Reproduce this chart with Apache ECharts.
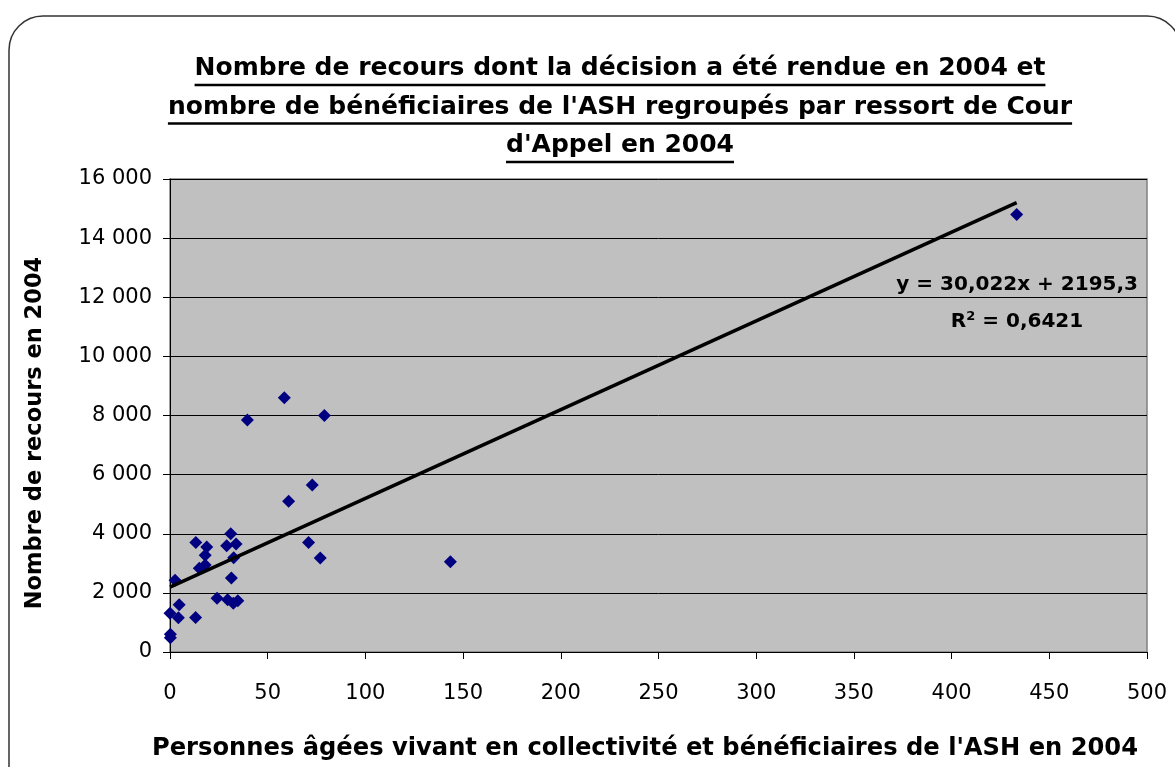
<!DOCTYPE html>
<html>
<head>
<meta charset="utf-8">
<script src="https://cdn.jsdelivr.net/npm/echarts@6/dist/echarts.min.js"></script>
<style>
  html, body { margin: 0; padding: 0; background: #fff; }
  #chart { width: 1175px; height: 767px; }
</style>
</head>
<body>
<div id="chart"></div>
<script>
// bénéficiaires de l'ASH (x) et recours (y), par ressort de Cour d'Appel
var beneficiaires = [58.5, 39.6, 79.0, 72.8, 60.7, 13.2, 18.8, 18.0, 31.1, 29.0,
                     33.8, 32.6, 15.0, 18.0, 2.6, 31.4, 24.1, 29.5, 32.4, 34.7,
                     4.7, 0.0, 4.3, 13.1, 0.2, 0.2, 70.9, 76.9, 143.5, 433.3];
var recours = [8600, 7850, 8000, 5650, 5100, 3700, 3550, 3270, 4000, 3590,
               3650, 3190, 2830, 2940, 2430, 2500, 1820, 1770, 1650, 1730,
               1600, 1310, 1160, 1170, 600, 480, 3700, 3180, 3050, 14800];
// courbe de tendance affichée
var pente = 30.022;
var ordonnee = 2195.3;
var titreLignes = ['Nombre de recours dont la décision a été rendue en 2004 et',
                   "nombre de bénéficiaires de l'ASH regroupés par ressort de Cour",
                   "d'Appel en 2004"];

var chart = echarts.init(document.getElementById('chart'));

var points = beneficiaires.map(function(x, i) { return [x, recours[i]]; });
var xMax = Math.max.apply(null, beneficiaires);
var tendance = [[0, ordonnee], [xMax, pente * xMax + ordonnee]];

function milliers(v) {
    return String(v).replace(/\B(?=(\d{3})+(?!\d))/g, ' ');
}

// titre souligné
var ctx = document.createElement('canvas').getContext('2d');
var titreFont = 'bold 25px "DejaVu Sans"';
ctx.font = titreFont;
var titreX = 620;
var graphics = [];
titreLignes.forEach(function(t, i) {
    var y = 71 + i * 38.5;
    var w = ctx.measureText(t).width;
    graphics.push({
        type: 'text', left: titreX - w / 2, top: y - 15,
        style: { text: t, font: titreFont, fill: '#000' }
    });
    graphics.push({
        type: 'line',
        shape: { x1: titreX - w / 2, y1: y + 14, x2: titreX + w / 2, y2: y + 14 },
        style: { stroke: '#000', lineWidth: 2.5 }
    });
});

// cadre arrondi
graphics.push({
    type: 'rect', z: -1,
    shape: { x: 9, y: 16, width: 1172, height: 800, r: 34 },
    style: { fill: 'none', stroke: '#333', lineWidth: 1.5 }
});

// titres des axes
graphics.push({
    type: 'text', x: 35, y: 433, rotation: Math.PI / 2,
    style: { text: 'Nombre de recours en 2004', font: 'bold 22.5px "DejaVu Sans"',
             fill: '#000', align: 'center', verticalAlign: 'middle' }
});
graphics.push({
    type: 'text', x: 645, y: 749,
    style: { text: "Personnes âgées vivant en collectivité et bénéficiaires de l'ASH en 2004",
             font: 'bold 24.2px "DejaVu Sans"', fill: '#000', align: 'center', verticalAlign: 'middle' }
});

// équation
graphics.push({
    type: 'text', x: 1138, y: 285, z: 10,
    style: { text: 'y = 30,022x + 2195,3', font: 'bold 20px "DejaVu Sans"',
             fill: '#000', align: 'right', verticalAlign: 'middle' }
});
graphics.push({
    type: 'text', x: 1017, y: 322, z: 10,
    style: {
        text: '{a|R}{s|2}{a| = 0,6421}', align: 'center', verticalAlign: 'middle',
        rich: {
            a: { font: 'bold 20px "DejaVu Sans"', fill: '#000' },
            s: { font: 'bold 13px "DejaVu Sans"', fill: '#000', verticalAlign: 'top', padding: [0, 0, 10, 0] }
        }
    }
});

option = {
    animation: false,
    grid: {
        left: 170, right: 28, top: 179, bottom: 115,
        show: true, backgroundColor: '#C0C0C0', borderColor: '#808080', borderWidth: 1.5
    },
    xAxis: {
        type: 'value', min: 0, max: 500, interval: 50,
        axisLine: { show: true, onZero: false, lineStyle: { color: '#000', width: 1 } },
        axisTick: { show: true, length: 7, lineStyle: { color: '#000' } },
        axisLabel: { color: '#000', fontSize: 21, fontFamily: 'DejaVu Sans', margin: 31 },
        splitLine: { show: false }
    },
    yAxis: {
        type: 'value', min: 0, max: 16000, interval: 2000,
        axisLine: { show: true, onZero: false, lineStyle: { color: '#000', width: 1 } },
        axisTick: { show: true, length: 7, lineStyle: { color: '#000' } },
        axisLabel: { color: '#000', fontSize: 21, fontFamily: 'DejaVu Sans', margin: 18, formatter: milliers },
        splitLine: { show: true, lineStyle: { color: '#000', width: 1 } }
    },
    series: [
        {
            name: 'recours',
            type: 'scatter',
            symbol: 'diamond',
            symbolSize: 13,
            itemStyle: { color: '#000080', opacity: 1 },
            data: points,
            z: 3
        },
        {
            name: 'tendance',
            type: 'line',
            symbol: 'none',
            lineStyle: { color: '#000', width: 3.5 },
            data: tendance,
            z: 4
        }
    ],
    graphic: graphics
};
chart.setOption(option);
</script>
</body>
</html>
